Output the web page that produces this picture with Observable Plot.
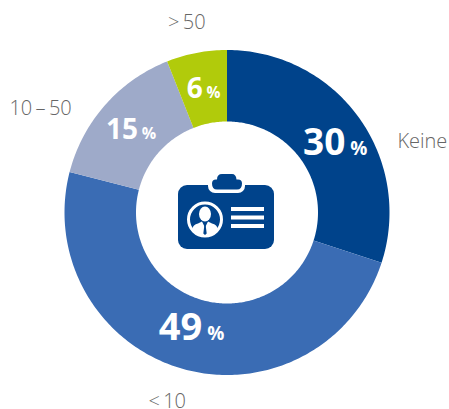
<!DOCTYPE html>
<html lang="de">
<head>
<meta charset="utf-8">
<script src="https://cdn.jsdelivr.net/npm/d3@7"></script>
<script src="https://cdn.jsdelivr.net/npm/@observablehq/plot@0.6"></script>
<style>html,body{margin:0;padding:0;background:#fff}svg{display:block}</style>
</head>
<body>
<div id="chart"></div>
<script>
const categories = ["Keine", "<10", "10–50", ">50"];
const shownLabels = ["Keine", "<\u200910", "10\u2009–\u200950", ">\u200950"];
const values = [30, 49, 15, 6];
const colors = ["#00438b", "#3a6cb4", "#9eaac9", "#b1cb0b"];

// Layout (not data): offsets from each slice's mid-radius point, pixels
const valueFontSizes = [37, 38, 28, 28];
const percentFontSizes = [19, 19, 16, 15.5];
const valueOffsets = [[15.5, 16], [10, 6], [5.5, 10], [-1, 9]];
const labelOffsets = [[92.5, 3], [-25, 67], [-92, -21], [-17, -66]];

const W = 449, H = 409, R = 162.5, r = 91, cx = 227, cy = 212.5;
const polar = (pct, rad) => {
  const a = pct / 100 * 2 * Math.PI;
  return [Math.sin(a) * rad, -Math.cos(a) * rad];
};

let cum = 0;
const slices = categories.map((c, i) => {
  const s = { category: c, value: values[i], start: cum, end: cum + values[i], mid: cum + values[i] / 2, i };
  cum += values[i];
  return s;
});

const ring = slices.flatMap(s => {
  const n = Math.ceil(s.value * 4);
  return d3.range(n + 1).map(k => {
    const p = s.start + (s.value * k) / n;
    const [x1, y1] = polar(p, r), [x2, y2] = polar(p, R);
    return { category: s.category, x1, y1, x2, y2 };
  });
});

const font = "'Open Sans', sans-serif";
const midR = (162 + r) / 2;

const textMarks = slices.flatMap(s => {
  const [mx, my] = polar(s.mid, midR);
  const [vdx, vdy] = valueOffsets[s.i];
  const [ldx, ldy] = labelOffsets[s.i];
  const at = [{ x: mx, y: my }];
  return [
    Plot.text(at, { x: "x", y: "y", text: () => String(s.value), dx: vdx, dy: vdy, textAnchor: "end", lineAnchor: "bottom",
      fill: "#fff", fontSize: valueFontSizes[s.i], fontWeight: 700, fontFamily: font }),
    Plot.text(at, { x: "x", y: "y", text: () => "%", dx: vdx + valueFontSizes[s.i] * 0.13, dy: vdy, textAnchor: "start", lineAnchor: "bottom",
      fill: "#fff", fontSize: percentFontSizes[s.i], fontWeight: 700, fontFamily: font }),
    Plot.text(at, { x: "x", y: "y", text: () => shownLabels[s.i], dx: ldx, dy: ldy, textAnchor: "middle", lineAnchor: "middle",
      fill: "#666", fontSize: 20, fontWeight: 300, fontFamily: font })
  ];
});

// Pictogram: ID badge, placed at the centre of the ring
function badge(index, { x, y }) {
  const g = d3.create("svg:g").attr("transform", `translate(${x(0)},${y(0)})`);
  const dark = colors[0];
  g.append("rect").attr("x", -49).attr("y", -27.5).attr("width", 96).attr("height", 64).attr("rx", 9).attr("fill", dark);
  g.append("rect").attr("x", -19).attr("y", -36).attr("width", 37).attr("height", 16.5).attr("rx", 7).attr("fill", "#fff");
  g.append("path").attr("fill", dark).attr("d", "M-15,-29 q0,-4 4,-4 l1,0 q0,-5.5 5,-5.5 l10,0 q4,0 4.5,5.5 l1.5,0 q4,0 4,4 q0,6 -5,6 l-20,0 q-5,0 -5,-6 z");
  g.append("circle").attr("cx", -22).attr("cy", 7).attr("r", 16.5).attr("fill", dark).attr("stroke", "#fff").attr("stroke-width", 3);
  g.append("ellipse").attr("cx", -22).attr("cy", 1.5).attr("rx", 6).attr("ry", 7.5).attr("fill", "#fff");
  g.append("path").attr("fill", "#fff").attr("d", "M-35,17 q1,-5 6,-6 l4,-2 l3,6 l3,-6 l4,2 q5,1 6,6 q-6,6 -13,6 q-7,0 -13,-6 z");
  g.append("path").attr("fill", dark).attr("d", "M-22.7,13 h1.4 l1,8 l-1.7,1.6 l-1.7,-1.6 z");
  for (const ly of [-5.5, 3, 11.5]) {
    g.append("rect").attr("x", 4).attr("y", ly).attr("width", 33).attr("height", 4).attr("fill", "#fff");
  }
  return g.node();
}

const chart = Plot.plot({
  width: W,
  height: H,
  margin: 0,
  style: { background: "transparent", fontFamily: font },
  x: { domain: [-cx, W - cx], range: [0, W], axis: null },
  y: { domain: [-cy, H - cy], range: [0, H], axis: null },
  color: { domain: categories, range: colors },
  marks: [
    Plot.area(ring, { x1: "x1", y1: "y1", x2: "x2", y2: "y2", z: "category", fill: "category", curve: "linear" }),
    badge,
    ...textMarks
  ]
});
document.getElementById("chart").append(chart);
</script>
</body>
</html>
